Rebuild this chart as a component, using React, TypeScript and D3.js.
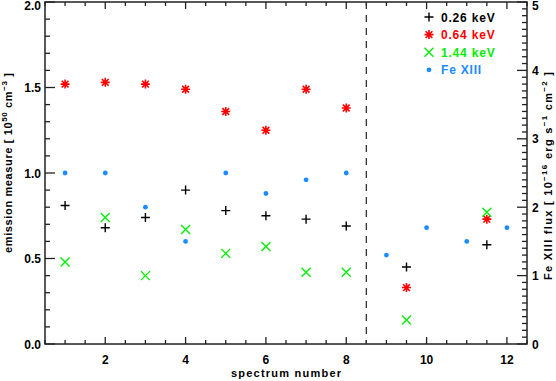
import React from "react";
import * as d3 from "d3";

// spectrum number positions
const xsMain = [1, 2, 3, 4, 5, 6, 7, 8, 9.5, 11.5];
const xsFe = [1, 2, 3, 4, 5, 6, 7, 8, 9, 10, 11, 12];

// emission measure [1e50 cm^-3]
const em026 = [0.81, 0.68, 0.74, 0.9, 0.78, 0.75, 0.73, 0.69, 0.45, 0.58];
const em064 = [1.52, 1.53, 1.52, 1.49, 1.36, 1.25, 1.49, 1.38, 0.33, 0.73];
const em144 = [0.48, 0.74, 0.4, 0.67, 0.53, 0.57, 0.42, 0.42, 0.14, 0.77];

// Fe XIII flux [1e-16 erg s^-1 cm^-2]
const feFlux = [2.5, 2.5, 2.0, 1.5, 2.5, 2.2, 2.4, 2.5, 1.3, 1.7, 1.5, 1.7];

const leftTicks = [0, 0.5, 1, 1.5, 2];
const rightTicks = [0, 1, 2, 3, 4, 5];
const bottomTicks = [2, 4, 6, 8, 10, 12];
const divider = 8.5;

const legendItems = [
  { label: "0.26 keV", color: "#000", sym: "plus" },
  { label: "0.64 keV", color: "#ff0000", sym: "star" },
  { label: "1.44 keV", color: "#00ee00", sym: "cross" },
  { label: "Fe XIII", color: "#1a8cff", sym: "dot" },
];

const W = 556;
const H = 381;
const left = 45;
const right = 527;
const top = 2;
const bottom = 344;

const font = "'Liberation Sans', Arial, sans-serif";

const Marker = ({ sym, x, y, color }: { sym: string; x: number; y: number; color: string }) => {
  const s = 4.5;
  if (sym === "plus")
    return (
      <path d={`M${x - s},${y}H${x + s}M${x},${y - s}V${y + s}`} stroke={color} strokeWidth={1.4} />
    );
  if (sym === "cross")
    return (
      <path
        d={`M${x - s},${y - s}L${x + s},${y + s}M${x - s},${y + s}L${x + s},${y - s}`}
        stroke={color}
        strokeWidth={1.3}
      />
    );
  if (sym === "star") {
    const d = s * 0.75;
    return (
      <path
        d={`M${x - s},${y}H${x + s}M${x},${y - s}V${y + s}M${x - d},${y - d}L${x + d},${y + d}M${x - d},${y + d}L${x + d},${y - d}`}
        stroke={color}
        strokeWidth={1.6}
      />
    );
  }
  return <circle cx={x} cy={y} r={2.4} fill={color} />;
};

const App = () => {
  const x = d3.scaleLinear().domain([0.5, 12.5]).range([left, right]);
  const yL = d3.scaleLinear().domain([0, 2]).range([bottom, top]);
  const yR = d3.scaleLinear().domain([0, 5]).range([bottom, top]);

  const leftMinor = d3.range(0, 2.0001, 0.1);
  const rightMinor = d3.range(0, 5.0001, 0.1);
  const bottomMinor = d3.range(0.5, 12.5001, 0.5);

  const axisColor = "#222";
  // keep the top labels inside the picture
  const labelY = (py: number) => Math.max(py + 4.5, 9.5);

  return (
    <svg width={W} height={H} style={{ position: "absolute", left: 0, top: 0, background: "#fff" }}>
      <g fontFamily={font} fontWeight="bold" fill="#000">
        {/* frame */}
        <rect x={left} y={top} width={right - left} height={bottom - top} fill="none" stroke={axisColor} strokeWidth={1.5} />

        {/* left ticks */}
        {leftMinor.map((v, i) => {
          const major = Math.abs(v * 2 - Math.round(v * 2)) < 1e-6;
          return <line key={"lm" + i} x1={left} x2={left + (major ? 10 : 5)} y1={yL(v)} y2={yL(v)} stroke={axisColor} strokeWidth={1.3} />;
        })}
        {leftTicks.map((v) => (
          <text key={"lt" + v} x={left - 4} y={labelY(yL(v))} textAnchor="end" fontSize={12}>
            {d3.format(".1f")(v)}
          </text>
        ))}

        {/* right ticks */}
        {rightMinor.map((v, i) => {
          const major = Math.abs(v - Math.round(v)) < 1e-6;
          return <line key={"rm" + i} x1={right} x2={right - (major ? 10 : 5)} y1={yR(v)} y2={yR(v)} stroke={axisColor} strokeWidth={1.3} />;
        })}
        {rightTicks.map((v) => (
          <text key={"rt" + v} x={right + 5} y={labelY(yR(v))} textAnchor="start" fontSize={12}>
            {v}
          </text>
        ))}

        {/* bottom and top ticks */}
        {bottomMinor.map((v, i) => {
          const major = Math.abs(v / 2 - Math.round(v / 2)) < 1e-6;
          const len = major ? 7 : 4;
          return (
            <g key={"bm" + i}>
              <line x1={x(v)} x2={x(v)} y1={bottom} y2={bottom - len} stroke={axisColor} strokeWidth={1.3} />
              <line x1={x(v)} x2={x(v)} y1={top} y2={top + len} stroke={axisColor} strokeWidth={1.3} />
            </g>
          );
        })}
        {bottomTicks.map((v) => (
          <text key={"bt" + v} x={x(v)} y={bottom + 20} textAnchor="middle" fontSize={12}>
            {v}
          </text>
        ))}

        {/* axis titles */}
        <text x={(left + right) / 2} y={377} textAnchor="middle" fontSize={11} textLength={110} lengthAdjust="spacing">
          spectrum number
        </text>
        <text transform={`translate(12,163) rotate(-90)`} textAnchor="middle" fontSize={11} textLength={180} lengthAdjust="spacing">
          emission measure [ 10
          <tspan fontSize={8} dy={-5}>50</tspan>
          <tspan dy={5}> cm</tspan>
          <tspan fontSize={8} dy={-5}>−3</tspan>
          <tspan dy={5}> ]</tspan>
        </text>
        <text transform={`translate(552,176) rotate(-90)`} textAnchor="middle" fontSize={11} textLength={208} lengthAdjust="spacing">
          Fe XIII flux [ 10
          <tspan fontSize={8} dy={-5}>−16</tspan>
          <tspan dy={5}> erg s</tspan>
          <tspan fontSize={8} dy={-5}>−1</tspan>
          <tspan dy={5}> cm</tspan>
          <tspan fontSize={8} dy={-5}>−2</tspan>
          <tspan dy={5}> ]</tspan>
        </text>

        {/* divider */}
        <line x1={x(divider)} x2={x(divider)} y1={top} y2={bottom} stroke="#333" strokeWidth={1.3} strokeDasharray="7,6" />

        {/* data */}
        {xsFe.map((xv, i) => (
          <Marker key={"fe" + i} sym="dot" x={x(xv)} y={yR(feFlux[i])} color={legendItems[3].color} />
        ))}
        {xsMain.map((xv, i) => (
          <Marker key={"a" + i} sym="plus" x={x(xv)} y={yL(em026[i])} color={legendItems[0].color} />
        ))}
        {xsMain.map((xv, i) => (
          <Marker key={"b" + i} sym="star" x={x(xv)} y={yL(em064[i])} color={legendItems[1].color} />
        ))}
        {xsMain.map((xv, i) => (
          <Marker key={"c" + i} sym="cross" x={x(xv)} y={yL(em144[i])} color={legendItems[2].color} />
        ))}

        {/* legend */}
        {legendItems.map((d, i) => (
          <g key={d.label}>
            <Marker sym={d.sym} x={429} y={17 + i * 17.6} color={d.color} />
            <text x={441} y={17 + i * 17.6 + 4.5} fontSize={12} fill={d.color} letterSpacing={0.8}>
              {d.label}
            </text>
          </g>
        ))}
      </g>
    </svg>
  );
};

export default App;
